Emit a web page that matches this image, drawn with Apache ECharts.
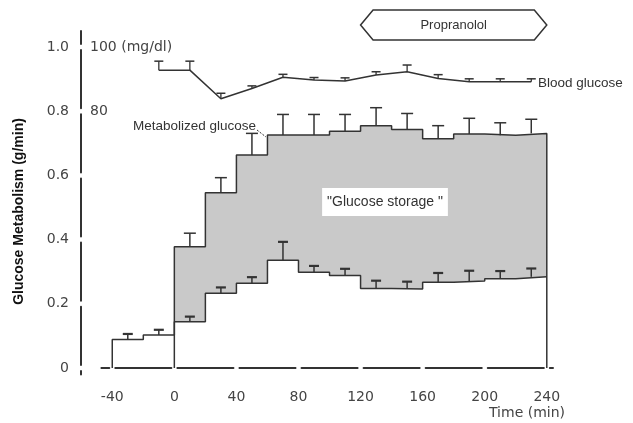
<!DOCTYPE html>
<html><head><meta charset="utf-8">
<script src="https://cdn.jsdelivr.net/npm/echarts@6/dist/echarts.min.js"></script>
<style>html,body{margin:0;padding:0;background:#fff}#c{width:633px;height:423px}</style>
</head><body><div id="c"></div>
<script>
// ---- data ----
const xTickLabels = [-40, 0, 40, 80, 120, 160, 200, 240];
const yTickLabels = [0, 0.2, 0.4, 0.6, 0.8, 1.0];
const bgTickLabels = [80, 100];

// Glucose oxidized (g/min), 20-min intervals starting at these times
const oxTimes = [-40, -20, 0, 20, 40, 60, 80, 100, 120, 140, 160, 180, 200, 220];
const oxValues = [0.089, 0.103, 0.144, 0.233, 0.264, 0.336, 0.298, 0.288, 0.248, 0.246, 0.267, 0.271, 0.278, 0.284];
const oxErrors = [0.017, 0.016, 0.016, 0.018, 0.019, 0.057, 0.020, 0.021, 0.024, 0.023, 0.029, 0.032, 0.024, 0.026];

// Metabolized glucose (g/min)
const metTimes = [0, 20, 40, 60, 80, 100, 120, 140, 160, 180, 200, 220];
const metValues = [0.378, 0.546, 0.664, 0.726, 0.726, 0.738, 0.755, 0.743, 0.714, 0.729, 0.725, 0.731];
const metErrors = [0.042, 0.047, 0.067, 0.064, 0.064, 0.052, 0.056, 0.050, 0.041, 0.049, 0.039, 0.044];
const endTime = 240;

// Blood glucose (mg/dl)
const bgTimes = [-10, 10, 30, 50, 70, 90, 110, 130, 150, 170, 190, 210, 230];
const bgValues = [92.8, 92.8, 83.9, 87.1, 90.6, 89.7, 89.4, 91.3, 92.3, 90.2, 89.2, 89.2, 89.2];
const bgErrors = [2.8, 2.8, 1.7, 0.8, 0.9, 0.8, 1.0, 1.0, 2.1, 1.2, 0.9, 0.9, 0.9];

// Propranolol period (min)
const propranolol = [120, 240];

// ---- build ----
const oxLine = [[oxTimes[0], 0]].concat(oxTimes.map((t, i) => [t, oxValues[i]]), [[endTime, oxValues[oxValues.length - 1]]]);
const metLine = [[metTimes[0], 0]].concat(metTimes.map((t, i) => [t, metValues[i]]), [[endTime, metValues[metValues.length - 1]], [endTime, 0]]);
const oxErr = oxTimes.map((t, i) => [t + 10, oxValues[i], oxErrors[i]]);
const metErr = metTimes.map((t, i) => [t + 10, metValues[i], metErrors[i]]);
const bgData = bgTimes.map((t, i) => [t, bgValues[i]]);
const bgErr = bgTimes.map((t, i) => [t, bgValues[i], bgErrors[i]]);

const INK = '#333';
function errRender(capW, lw, capLw) {
  return function (params, api) {
    const t = api.value(0), m = api.value(1), e = api.value(2);
    const p0 = api.coord([t, m]), p1 = api.coord([t, m + e]);
    return { type: 'group', children: [
      { type: 'line', shape: { x1: p0[0], y1: p0[1], x2: p1[0], y2: p1[1] }, style: { stroke: INK, lineWidth: lw } },
      { type: 'line', shape: { x1: p1[0] - capW / 2, y1: p1[1], x2: p1[0] + capW / 2, y2: p1[1] }, style: { stroke: INK, lineWidth: capLw } }
    ] };
  };
}

const chart = echarts.init(document.getElementById('c'), null, { renderer: 'canvas' });
const tickFont = { fontFamily: 'DejaVu Sans', fontSize: 14, color: '#444' };
chart.setOption({
  animation: false,
  backgroundColor: '#fff',
  grid: { left: 101.4, right: 80, top: 31, bottom: 48.6 },
  xAxis: {
    type: 'value', min: -47, max: 244, z: 10,
    axisLine: { onZero: true, lineStyle: { color: INK, width: 2, type: [56.08, 6], dashOffset: 48.2 } },
    axisTick: { show: false },
    splitLine: { show: false },
    axisLabel: Object.assign({ customValues: xTickLabels, margin: 16 }, tickFont)
  },
  yAxis: [{
    type: 'value', min: -0.02, max: 1.05, offset: 20.4, z: 10,
    axisLine: { show: true, onZero: false, lineStyle: { color: INK, width: 2, type: [58.2, 6], dashOffset: 54.8 } },
    axisTick: { show: false },
    splitLine: { show: false },
    axisLabel: Object.assign({ customValues: yTickLabels, margin: 12, formatter: v => v === 0 ? '0' : v.toFixed(1) }, tickFont)
  }, {
    type: 'value', min: -2, max: 105, position: 'left', offset: 20.4,
    axisLine: { show: false, onZero: false },
    axisTick: { show: false },
    splitLine: { show: false },
    axisLabel: Object.assign({ inside: true, customValues: bgTickLabels, margin: 9, formatter: v => v === 100 ? '100 (mg/dl)' : String(v) }, tickFont)
  }],
  graphic: [
    { type: 'text', left: 12, top: 'middle', rotation: Math.PI / 2, x: 20, y: 215,
      style: { text: 'Glucose Metabolism (g/min)', fontFamily: 'Liberation Sans', fontWeight: 'bold', fontSize: 14, fill: '#111', textAlign: 'center', textVerticalAlign: 'middle' } },
    { type: 'text', x: 133, y: 126, style: { text: 'Metabolized glucose', fontFamily: 'Liberation Sans', fontSize: 13.5, fill: INK, textVerticalAlign: 'middle' } },
    { type: 'line', shape: { x1: 257, y1: 130, x2: 266, y2: 137 }, style: { stroke: INK, lineWidth: 1, lineDash: [2, 1.5] } },
    { type: 'text', x: 538, y: 83, style: { text: 'Blood glucose', fontFamily: 'Liberation Sans', fontSize: 13.5, fill: INK, textVerticalAlign: 'middle' } },
    { type: 'text', x: 385, y: 202, z: 20, style: { text: '"Glucose storage "', fontFamily: 'Liberation Sans', fontSize: 14, fill: INK, textAlign: 'center', textVerticalAlign: 'middle', backgroundColor: '#fff', padding: [7, 5] } },
    { type: 'text', x: 322, y: 321, style: { text: 'Glucose oxidized', fontFamily: 'Liberation Sans', fontSize: 14, fill: INK, textVerticalAlign: 'middle' } },
    { type: 'text', x: 527, y: 413, style: { text: 'Time (min)', fontFamily: 'DejaVu Sans', fontSize: 14, fill: '#444', textAlign: 'center', textVerticalAlign: 'middle' } }
  ],
  series: [
    { name: 'Metabolized area', type: 'line', step: 'end', data: metLine, symbol: 'none', z: 1,
      lineStyle: { width: 0 }, areaStyle: { color: '#c9c9c9', opacity: 1 } },
    { name: 'Oxidized area', type: 'line', step: 'end', data: oxLine, symbol: 'none', z: 1,
      lineStyle: { width: 0 }, areaStyle: { color: '#ffffff', opacity: 1 } },
    { name: 'Metabolized glucose', type: 'line', step: 'end', data: metLine, symbol: 'none', z: 3,
      lineStyle: { color: INK, width: 1.5 } },
    { name: 'Glucose oxidized', type: 'line', step: 'end', data: oxLine, symbol: 'none', z: 3,
      lineStyle: { color: INK, width: 1.5 } },
    { name: 'Metabolized err', type: 'custom', data: metErr, renderItem: errRender(12, 1.5, 1.5), encode: { x: 0, y: 1 }, z: 4 },
    { name: 'Oxidized err', type: 'custom', data: oxErr, renderItem: errRender(10, 1.5, 2.2), encode: { x: 0, y: 1 }, z: 4 },
    { name: 'Blood glucose', type: 'line', yAxisIndex: 1, data: bgData, symbol: 'none', z: 3,
      lineStyle: { color: INK, width: 1.5 } },
    { name: 'Blood glucose err', type: 'custom', yAxisIndex: 1, data: bgErr, renderItem: errRender(9, 1.3, 1.5), encode: { x: 0, y: 1 }, z: 4 },
    { name: 'Propranolol', type: 'custom', data: [propranolol], encode: { x: [0, 1] }, z: 5,
      renderItem: function (params, api) {
        const x1 = api.coord([api.value(0), 0])[0], x2 = api.coord([api.value(1), 0])[0];
        const top = 10, bot = 40, mid = 25, k = 12.5;
        return { type: 'group', children: [
          { type: 'polygon', shape: { points: [[x1, mid], [x1 + k, top], [x2 - k, top], [x2, mid], [x2 - k, bot], [x1 + k, bot]] },
            style: { fill: '#fff', stroke: INK, lineWidth: 1.5 } },
          { type: 'text', x: (x1 + x2) / 2, y: mid, style: { text: 'Propranolol', fontFamily: 'Liberation Sans', fontSize: 13, fill: INK, textAlign: 'center', textVerticalAlign: 'middle' } }
        ] };
      } }
  ]
});
</script>
</body></html>
